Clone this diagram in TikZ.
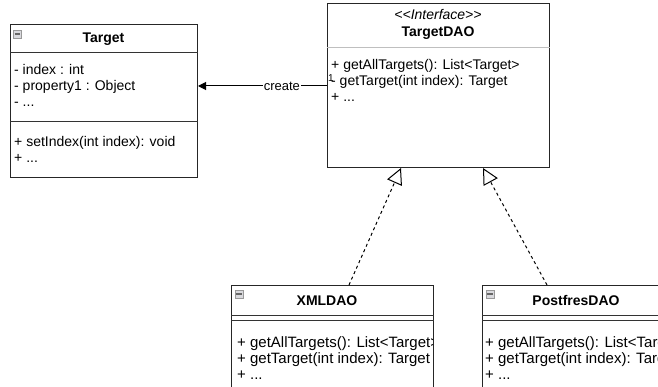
\documentclass[tikz,border=0pt]{standalone}
\usepackage{fontspec}
\setmainfont{Liberation Sans}
\usetikzlibrary{arrows.meta}

\tikzset{
  classbox/.style={draw=black!85, line width=1pt, fill=white, inner sep=0pt, anchor=north west},
  sep/.style={line width=1pt, draw=black!80},
  lightsep/.style={line width=1pt, draw=black!25},
  member/.style={anchor=base west, inner sep=0pt, font=\fontsize{14}{16}\selectfont},
  submember/.style={anchor=base west, inner sep=0pt, font=\fontsize{15}{16}\selectfont},
  classtitle/.style={anchor=base, inner sep=0pt, font=\bfseries\fontsize{14}{16}\selectfont},
  realize/.style={line width=1pt, dash pattern=on 3pt off 3pt,
    -{Triangle[open, length=16pt, width=16pt, line width=1pt]}},
  createarrow/.style={line width=1pt, -{Triangle[length=8pt, width=8pt]}},
  foldicon/.style={draw=black!40, fill=blue!10!black!15, minimum size=8pt, inner sep=0pt, line width=0.6pt},
  foldbar/.style={line width=1.4pt, draw=black!60},
}

\begin{document}
\begin{tikzpicture}[x=1pt, y=-1pt]
  \useasboundingbox (0,0) rectangle (658,387);
  \clip (0,0) rectangle (658,387);

  % Target class
  \node[classbox, minimum width=187pt, minimum height=153pt] (target) at (10,24) {};
  \draw[sep] (target.west |- 0,53) -- (target.east |- 0,53);
  \draw[sep] (target.west |- 0,122) -- (target.east |- 0,122);
  \node[foldicon] (ticon) at (17.5,34) {};
  \draw[foldbar] ([xshift=1.5pt]ticon.west) -- ([xshift=-1.5pt]ticon.east);
  \node[classtitle] (ttitle) at (103.5,43) {Target};
  \node[member] (ta1) at (14,75) {- index : int};
  \node[member] (ta2) at (14,91) {- property1 : Object};
  \node[member] (ta3) at (14,107) {- ...};
  \node[member] (tm1) at (14,147) {+ setIndex(int index): void};
  \node[member] (tm2) at (14,163) {+ ...};

  % TargetDAO interface
  \node[classbox, minimum width=222pt, minimum height=164pt] (dao) at (327,3) {};
  \draw[lightsep] (dao.west |- 0,48) -- (dao.east |- 0,48);
  \node[anchor=base, inner sep=0pt, font=\itshape\fontsize{14}{16}\selectfont] (dstereo) at (438,20) {{<}{<}Interface{>}{>}};
  \node[classtitle] (dtitle) at (438,37) {TargetDAO};
  \node[member] (dm1) at (331,70) {+ getAllTargets(): List<Target>};
  \node[member] (dm2) at (331,86) {- getTarget(int index): Target};
  \node[member] (dm3) at (331,102) {+ ...};

  % create association
  \draw[createarrow] (dao.west |- 0,86) -- (target.east |- 0,86)
    node[pos=0.35, fill=white, inner sep=1pt, font=\fontsize{13}{15}\selectfont] (createlbl) {create};
  \node[anchor=base west, inner sep=0pt, font=\fontsize{10}{11}\selectfont] (mult) at (328,82) {1};

  % XMLDAO class
  \node[classbox, minimum width=202pt, minimum height=120pt] (xml) at (231,285) {};
  \draw[sep] (xml.west |- 0,315) -- (xml.east |- 0,315);
  \draw[sep] (xml.west |- 0,320) -- (xml.east |- 0,320);
  \node[foldicon] (xicon) at (239,294) {};
  \draw[foldbar] ([xshift=1.5pt]xicon.west) -- ([xshift=-1.5pt]xicon.east);
  \node[classtitle] (xtitle) at (327,305) {XMLDAO};
  \begin{scope}
    \clip (231,320) rectangle (432,400);
    \node[submember] (xm1) at (237,347) {+ getAllTargets(): List<Target>};
    \node[submember] (xm2) at (237,363) {+ getTarget(int index): Target};
    \node[submember] (xm3) at (237,379) {+ ...};
  \end{scope}

  % PostfresDAO class
  \node[classbox, minimum width=202pt, minimum height=120pt] (pg) at (482,285) {};
  \draw[sep] (pg.west |- 0,315) -- (pg.east |- 0,315);
  \draw[sep] (pg.west |- 0,320) -- (pg.east |- 0,320);
  \node[foldicon] (picon) at (490,294) {};
  \draw[foldbar] ([xshift=1.5pt]picon.west) -- ([xshift=-1.5pt]picon.east);
  \node[classtitle] (ptitle) at (576,305) {PostfresDAO};
  \node[submember] (pm1) at (485,347) {+ getAllTargets(): List<Target>};
  \node[submember] (pm2) at (485,363) {+ getTarget(int index): Target};
  \node[submember] (pm3) at (485,379) {+ ...};

  % realizations of the interface
  \draw[realize] (xml.north -| 349,0) -- (dao.south -| 401,0);
  \draw[realize] (pg.north -| 547,0) -- (dao.south -| 483,0);
\end{tikzpicture}
\end{document}
